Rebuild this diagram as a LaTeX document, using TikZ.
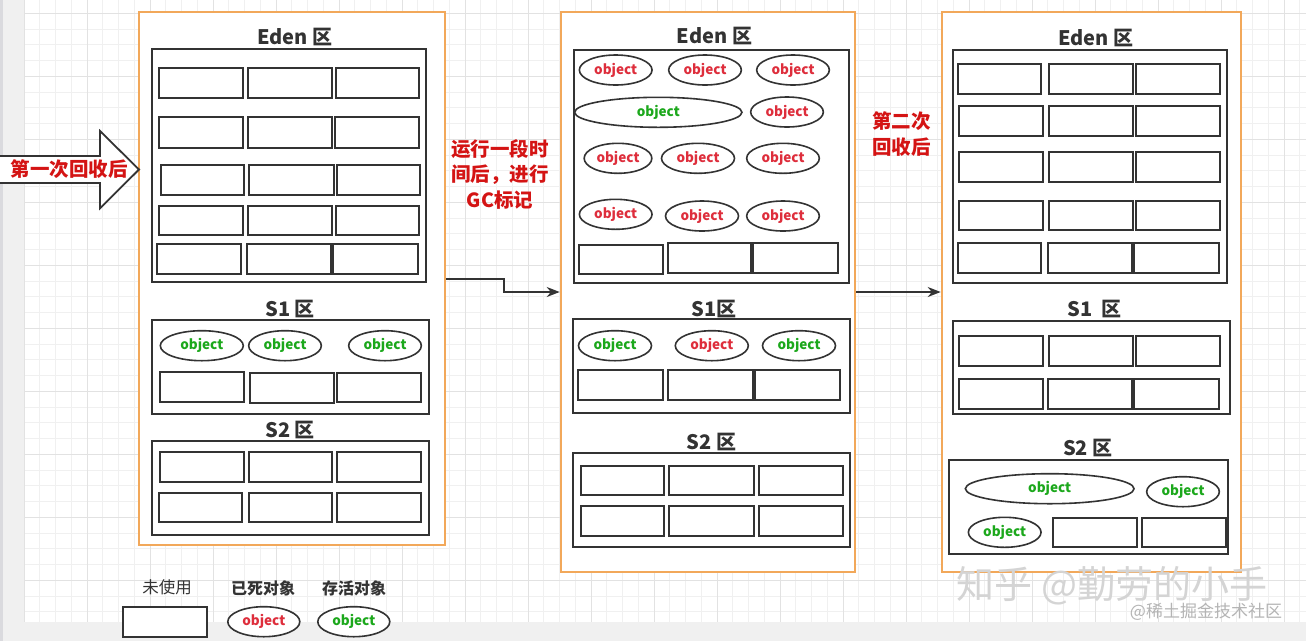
\documentclass[tikz,border=0pt]{standalone}
\usepackage{fontspec}
\setmainfont{Noto Sans CJK SC}
\usetikzlibrary{shapes.geometric,arrows.meta}
\definecolor{orng}{RGB}{242,168,90}
\definecolor{dk}{RGB}{51,51,51}
\definecolor{deadred}{RGB}{222,46,60}
\definecolor{livegreen}{RGB}{28,168,28}
\definecolor{lblred}{RGB}{212,20,20}
\definecolor{gridminor}{RGB}{240,240,240}
\definecolor{gridmajor}{RGB}{226,226,226}
\definecolor{stripgray}{RGB}{240,240,240}
\definecolor{stripdark}{RGB}{218,218,222}
\definecolor{wmgray}{RGB}{212,212,212}
\definecolor{wmgraytwo}{RGB}{180,180,180}
\newcommand\myttlfont{\fontsize{20}{24}\selectfont\bfseries}
\newcommand\myobjfont{\fontsize{13.5}{16}\selectfont\bfseries}
\newcommand\mylblfont{\fontsize{19.5}{25.5}\selectfont\bfseries}
\newcommand\boxnode[6]{\node[#1, minimum width={#5-#3}, minimum height={#6-#4}] (#2) at ({(#3+#5)/2},{(#4+#6)/2}) {};}
\newcommand\objell[6]{\node[objst, minimum width=#5, text=#6] (#1) at (#3,#4) {object};}
\begin{document}
\begin{tikzpicture}[x=1pt,y=-1pt,
  cellst/.style={rectangle, draw=dk, line width=1.8pt, fill=white, inner sep=0pt},
  zonest/.style={rectangle, draw=dk, line width=1.8pt, fill=white, inner sep=0pt},
  panelst/.style={rectangle, draw=orng, line width=2pt, fill=white, inner sep=0pt},
  objst/.style={ellipse, draw=dk, line width=1.6pt, fill=white, minimum height=30pt, inner sep=0pt, font=\myobjfont},
  ttl/.style={text=dk, inner sep=0pt, font=\myttlfont},
  lbl/.style={text=lblred, inner sep=0pt, align=center, font=\mylblfont},
  legtxt/.style={text=dk, inner sep=0pt, font=\fontsize{16}{18}\selectfont\bfseries},
  conn/.style={draw=dk, line width=1.8pt, -{Stealth[length=13pt,width=10pt]}}
]
\useasboundingbox (0,0) rectangle (1306,641);
% background
\fill[white] (0,0) rectangle (1306,641);
\foreach \i in {-1,...,81} \draw[gridminor, line width=1pt] ({24+15.75*\i},0) -- ({24+15.75*\i},622);
\foreach \k in {-1,...,38} \draw[gridminor, line width=1pt] (24,{13.3+15.75*\k}) -- (1306,{13.3+15.75*\k});
\foreach \i in {0,4,...,80} \draw[gridmajor, line width=1pt] ({24+15.75*\i},0) -- ({24+15.75*\i},622);
\foreach \k in {0,4,...,36} \draw[gridmajor, line width=1pt] (24,{13.3+15.75*\k}) -- (1306,{13.3+15.75*\k});
\fill[stripgray] (0,0) rectangle (24,641);
\fill[stripgray] (0,622) rectangle (1306,641);
\fill[stripdark] (0,0) rectangle (3,641);

% ================= left panel
\boxnode{panelst}{Lp}{139}{12.3}{445}{545}
\node[ttl] (LtE) at (295,37) {Eden 区};
\boxnode{zonest}{LE}{151.7}{49}{425.7}{281.7}
\boxnode{cellst}{LE11}{159}{68.3}{243.3}{98.3}
\boxnode{cellst}{LE12}{248.3}{68.3}{332.3}{98.3}
\boxnode{cellst}{LE13}{335.7}{68.3}{419.3}{98.3}
\boxnode{cellst}{LE21}{159}{117.3}{243}{147.7}
\boxnode{cellst}{LE22}{247.7}{117.3}{331.7}{147.7}
\boxnode{cellst}{LE23}{335.3}{117.3}{419.3}{147.7}
\boxnode{cellst}{LE31}{160.7}{165}{244.3}{195}
\boxnode{cellst}{LE32}{249.3}{165}{334}{195}
\boxnode{cellst}{LE33}{336.7}{165}{420.3}{195}
\boxnode{cellst}{LE41}{159}{205.7}{243.3}{235}
\boxnode{cellst}{LE42}{248}{205.7}{332}{235}
\boxnode{cellst}{LE43}{335.7}{205.7}{419.3}{235}
\boxnode{cellst}{LE51}{157.3}{244.3}{241.3}{274.3}
\boxnode{cellst}{LE52}{246.7}{244.3}{331}{274.3}
\boxnode{cellst}{LE53}{333.3}{244.3}{417.7}{274.3}
\node[ttl] (LtS1) at (290,309) {S1 区};
\boxnode{zonest}{LS1}{151.7}{320}{429.3}{414}
\objell{LS1o1}{}{201.8}{345.7}{83}{livegreen}
\objell{LS1o2}{}{285}{345.7}{72.7}{livegreen}
\objell{LS1o3}{}{385}{345.7}{72.7}{livegreen}
\boxnode{cellst}{LS1c1}{160}{371.7}{244.3}{401.7}
\boxnode{cellst}{LS1c2}{250.3}{372.7}{334}{403.3}
\boxnode{cellst}{LS1c3}{337}{372.7}{421.3}{402.3}
\node[ttl] (LtS2) at (290,429.5) {S2 区};
\boxnode{zonest}{LS2}{151.7}{441}{429.3}{535}
\boxnode{cellst}{LS2a1}{159.7}{452.3}{244.3}{482.3}
\boxnode{cellst}{LS2a2}{248.7}{452.3}{332.3}{482.3}
\boxnode{cellst}{LS2a3}{337}{452.3}{421.3}{482.3}
\boxnode{cellst}{LS2b1}{159}{492.7}{242.3}{522.3}
\boxnode{cellst}{LS2b2}{248.7}{492.7}{332.3}{522.3}
\boxnode{cellst}{LS2b3}{337}{492.7}{421.3}{522.3}

% ================= middle panel
\boxnode{panelst}{Mp}{560.7}{12.3}{855.3}{571.7}
\node[ttl] (MtE) at (714.5,36) {Eden 区};
\boxnode{zonest}{ME}{574}{50}{848.7}{282.7}
\objell{MEo11}{}{615.7}{70}{72.7}{deadred}
\objell{MEo12}{}{705}{70}{72.7}{deadred}
\objell{MEo13}{}{793}{70}{72.7}{deadred}
\objell{MEo21}{}{658.3}{112.3}{167.3}{livegreen}
\objell{MEo22}{}{787}{112}{72.7}{deadred}
\objell{MEo31}{}{618}{158.3}{67.7}{deadred}
\objell{MEo32}{}{698}{158.3}{73}{deadred}
\objell{MEo33}{}{783}{158.3}{72.7}{deadred}
\objell{MEo41}{}{615.7}{214.3}{72.7}{deadred}
\objell{MEo42}{}{702}{216}{73}{deadred}
\objell{MEo43}{}{783}{216}{72.7}{deadred}
\boxnode{cellst}{MEc1}{578.7}{245}{662.7}{274.3}
\boxnode{cellst}{MEc2}{667.7}{242.7}{751}{272.7}
\boxnode{cellst}{MEc3}{753.3}{242.7}{838.3}{272.7}
\node[ttl] (MtS1) at (714,309) {S1区};
\boxnode{zonest}{MS1}{572.7}{319}{849.7}{412.7}
\objell{MS1o1}{}{615}{345.7}{73}{livegreen}
\objell{MS1o2}{}{711.8}{345.7}{73}{deadred}
\objell{MS1o3}{}{799}{345.7}{73}{livegreen}
\boxnode{cellst}{MS1c1}{578.3}{370.3}{662.7}{400.3}
\boxnode{cellst}{MS1c2}{668.3}{370.3}{753.3}{400.3}
\boxnode{cellst}{MS1c3}{755}{370.3}{839.7}{400.3}
\node[ttl] (MtS2) at (711.3,441.7) {S2 区};
\boxnode{zonest}{MS2}{573.3}{452.7}{850.3}{546.7}
\boxnode{cellst}{MS2a1}{580.7}{465.7}{664.3}{495.3}
\boxnode{cellst}{MS2a2}{669.3}{465.7}{754.3}{495.3}
\boxnode{cellst}{MS2a3}{758.7}{465.7}{842.7}{495.3}
\boxnode{cellst}{MS2b1}{580.7}{505.7}{664.3}{536}
\boxnode{cellst}{MS2b2}{669.3}{505.7}{754.3}{536}
\boxnode{cellst}{MS2b3}{758.7}{505.7}{842.7}{536}

% ================= right panel
\boxnode{panelst}{Rp}{941.7}{12.3}{1241}{571.7}
\node[ttl] (RtE) at (1095.7,37.5) {Eden 区};
\boxnode{zonest}{RE}{952.7}{50}{1226.7}{282.7}
\boxnode{cellst}{RE11}{957.7}{64}{1041.3}{94}
\boxnode{cellst}{RE12}{1049.3}{64}{1133.3}{94}
\boxnode{cellst}{RE13}{1136}{64}{1220.3}{94}
\boxnode{cellst}{RE21}{958.7}{105.7}{1043.3}{135.7}
\boxnode{cellst}{RE22}{1049.3}{105.7}{1133.3}{135.7}
\boxnode{cellst}{RE23}{1136}{105.7}{1220.3}{135.7}
\boxnode{cellst}{RE31}{958.7}{151.7}{1043.3}{181.7}
\boxnode{cellst}{RE32}{1049.3}{151.7}{1133.3}{181.7}
\boxnode{cellst}{RE33}{1136}{151.7}{1220.3}{181.7}
\boxnode{cellst}{RE41}{958.7}{200.7}{1043.3}{230.3}
\boxnode{cellst}{RE42}{1049.3}{200.7}{1133.3}{230.3}
\boxnode{cellst}{RE43}{1136}{200.7}{1220.3}{230.3}
\boxnode{cellst}{RE51}{957.7}{242.7}{1041.3}{272.7}
\boxnode{cellst}{RE52}{1047.7}{242.7}{1131.7}{272.7}
\boxnode{cellst}{RE53}{1134.3}{242.7}{1218.7}{272.7}
\node[ttl] (RtS1) at (1094.5,309) {S1\ \ 区};
\boxnode{zonest}{RS1}{952.7}{321}{1230.3}{414}
\boxnode{cellst}{RS1a1}{958.7}{335.7}{1043.3}{365.7}
\boxnode{cellst}{RS1a2}{1049.3}{335.7}{1133.3}{365.7}
\boxnode{cellst}{RS1a3}{1136}{335.7}{1220.3}{365.7}
\boxnode{cellst}{RS1b1}{959.3}{379.3}{1043.3}{409.3}
\boxnode{cellst}{RS1b2}{1047.7}{379.3}{1132.3}{409.3}
\boxnode{cellst}{RS1b3}{1134}{379.3}{1218.7}{409.3}
\node[ttl] (RtS2) at (1087.8,447.8) {S2 区};
\boxnode{zonest}{RS2}{949.3}{460}{1227.7}{554}
\objell{RS2o1}{}{1049.7}{488.7}{168.7}{livegreen}
\objell{RS2o2}{}{1183}{491.7}{72.7}{livegreen}
\objell{RS2o3}{}{1004.7}{532.3}{72.7}{livegreen}
\boxnode{cellst}{RS2c1}{1052.7}{517.7}{1137.3}{547.3}
\boxnode{cellst}{RS2c2}{1141.7}{517.7}{1226}{547.3}

% ================= big arrow and labels
\draw[draw=dk, line width=1.8pt, fill=white, line join=miter] (-5,156) -- (100,156) -- (100,131) -- (139,169.5) -- (100,208.3) -- (100,183) -- (-5,183) -- cycle;
\node[lbl] (lblA) at (69,169.5) {第一次回收后};
\node[lbl] (lblB) at (500,174) {运行一段时\\间后，进行\\GC标记};
\node[lbl] (lblC) at (901.7,134.2) {第二次\\回收后};

% ================= connectors
\draw[conn] (Lp.east) -- ++(58,0) |- (Mp.west);
\draw[conn] (Mp.east) -- (Rp.west);

% ================= legend
\node[text=dk, inner sep=0pt, font=\fontsize{16.5}{18}\selectfont] (legU) at (167,587.5) {未使用};
\node[legtxt] (legD) at (263,588) {已死对象};
\node[legtxt] (legL) at (354,588) {存活对象};
\boxnode{cellst}{legRect}{122.7}{606.7}{207.3}{636.7}
\objell{legDead}{}{263.8}{621.7}{72}{deadred}
\objell{legLive}{}{353.8}{621.7}{72}{livegreen}

% ================= watermark
\node[text=wmgray, inner sep=0pt, font=\fontsize{38}{42}\selectfont] (wmA) at (1112,586) {知乎 @勤劳的小手};
\node[text=wmgraytwo, inner sep=0pt, font=\fontsize{17}{20}\selectfont] (wmB) at (1206,611.5) {@稀土掘金技术社区};
\end{tikzpicture}
\end{document}
